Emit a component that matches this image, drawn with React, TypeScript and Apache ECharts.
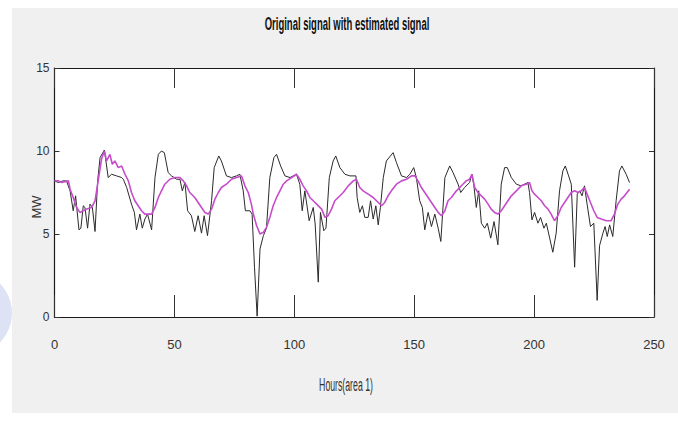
import React, { useEffect, useRef } from "react";
import * as echarts from "echarts";

const chartTitle = "Original signal with estimated signal";
const xAxisName = "Hours(area 1)";
const yAxisName = "MW";

const originalHours = [
  0, 1.6, 3.5, 5.0, 6.5, 7.8, 8.8, 10.2, 11.0, 12.0, 12.7, 13.8, 14.8, 15.8, 16.9, 18.0, 19.0, 20.8, 22.4, 23.8,
  25.9, 28.0, 28.7, 30.1, 32.1, 33.3, 34.2, 35.6, 36.6, 37.7, 38.8, 40.5, 41.9, 43.3, 44.6, 45.8, 47.4, 48.8,
  50.9, 52.3, 53.3, 54.4, 55.5, 57.1, 58.5, 59.9, 61.3, 62.4, 63.8, 65.5, 66.6, 68.5, 69.6, 71.7, 73.8, 75.9,
  77.3, 78.7, 79.6, 81.5, 82.4, 83.4, 84.5, 85.7, 87.1, 88.4, 89.8, 91.5, 92.6, 94.3, 96.1, 98.2, 100.9, 102.3,
  103.3, 104.4, 106.2, 107.9, 108.7, 110.0, 110.9, 112.3, 113.2, 114.6, 116.2, 117.3, 119.0, 121.1, 123.2,
  125.7, 126.2, 127.3, 128.4, 129.4, 130.8, 131.8, 132.9, 134.0, 135.0, 135.9, 137.1, 138.4, 141.2, 142.6,
  144.7, 146.8, 148.2, 149.8, 150.9, 152.3, 153.4, 154.4, 155.8, 157.2, 158.6, 160.0, 161.1, 162.8, 164.8,
  166.2, 168.3, 169.4, 171.0, 173.1, 174.1, 174.9, 175.9, 176.9, 178.0, 179.4, 180.5, 181.9, 183.3, 184.9,
  186.3, 187.7, 188.8, 190.5, 192.6, 194.6, 197.4, 198.1, 199.1, 200.2, 201.6, 202.7, 204.1, 205.1, 206.5,
  207.8, 209.2, 210.6, 212.0, 213.0, 214.4, 215.5, 216.9, 218.0, 219.0, 220.0, 221.0, 222.1, 223.5, 224.9,
  226.3, 227.3, 228.7, 229.6, 230.5, 231.5, 232.8, 234.2, 235.6, 236.6, 238.4, 239.8,
];
const originalMW = [
  8.2, 8.1, 8.2, 8.2, 7.6, 6.4, 7.3, 5.25, 5.35, 6.7, 6.6, 5.35, 6.8, 6.6, 5.15, 8.2, 9.6, 10.06, 8.4, 8.6,
  8.5, 8.4, 8.3, 7.8, 6.8, 6.3, 5.25, 6.2, 5.35, 5.9, 6.2, 5.25, 8.4, 9.8, 10.0, 9.9, 8.7, 8.5,
  8.3, 8.3, 7.6, 8.1, 6.4, 6.1, 5.15, 6.1, 5.05, 6.1, 4.9, 7.0, 9.0, 9.7, 9.4, 8.5, 8.4, 8.5,
  8.6, 7.6, 6.4, 6.4, 6.2, 3.0, 0.05, 4.1, 4.9, 5.35, 8.4, 9.6, 9.8, 9.1, 8.5, 8.4, 8.6, 8.0,
  6.4, 7.6, 5.8, 6.6, 5.6, 2.1, 6.3, 5.2, 5.35, 8.4, 9.4, 9.7, 9.0, 8.6, 8.5,
  8.5, 7.2, 6.3, 6.7, 6.0, 6.0, 7.0, 5.9, 6.7, 5.55, 6.6, 8.4, 9.4, 9.9, 9.3,
  8.5, 8.4, 8.6, 9.0, 8.4, 7.0, 6.6, 5.25, 6.3, 5.45, 6.2, 5.35, 4.55, 8.4, 9.1,
  8.7, 8.0, 7.5, 7.8, 8.1, 8.6, 7.9, 6.6, 7.6, 5.65, 5.35, 5.65, 4.75, 5.75, 4.35,
  8.0, 9.0, 9.0, 8.4, 8.0, 7.9, 8.1, 7.5, 5.85, 6.3, 5.65, 6.0, 5.35, 5.65, 4.75,
  3.9, 5.05, 7.6, 8.8, 9.1, 8.5, 8.0, 3.0, 7.4, 7.6, 7.3, 7.9, 6.8, 5.45, 5.65,
  1.0, 4.3, 5.05, 5.45, 4.85, 5.55, 4.85, 7.0, 8.8, 9.1, 8.6, 8.1,
];

const estimatedHours = [
  0, 1.6, 3.0, 5.8, 6.5, 7.8, 9.2, 10.6, 12.0, 13.4, 15.5, 16.9, 18.0, 19.6, 20.8, 21.7, 23.1, 24.1, 25.2, 26.6,
  28.0, 29.4, 30.8, 32.1, 33.5, 34.9, 36.3, 37.7, 40.5, 41.9, 43.3, 44.6, 46.0, 48.1, 50.2, 52.3, 53.7, 55.1,
  56.4, 58.5, 59.9, 61.3, 62.7, 64.1, 65.5, 66.9, 68.3, 69.6, 71.7, 73.8, 75.9, 78.0, 79.4, 80.8, 82.1, 82.9,
  84.3, 85.7, 87.1, 88.4, 89.8, 91.2, 92.6, 94.0, 95.4, 96.8, 98.9, 100.9, 102.3, 103.7, 105.1, 106.5, 107.9,
  109.3, 111.4, 112.8, 114.1, 115.5, 116.9, 118.3, 120.4, 122.5, 124.6, 125.9, 127.3, 128.7, 130.8, 132.9,
  135.0, 136.4, 137.7, 139.1, 140.5, 142.6, 144.7, 146.8, 148.9, 150.3, 151.6, 153.0, 154.4, 155.8, 157.2,
  158.6, 160.0, 161.4, 162.8, 164.1, 165.5, 167.6, 169.0, 170.3, 171.7, 173.1, 174.1, 175.2, 176.6, 178.0,
  179.4, 180.8, 182.1, 183.5, 184.9, 186.3, 187.7, 189.1, 190.5, 192.6, 194.6, 196.7, 198.1, 199.1, 200.2,
  201.6, 203.0, 204.4, 205.8, 207.1, 208.5, 209.9, 211.3, 212.7, 214.1, 215.5, 216.9, 218.3, 219.6, 221.0,
  222.1, 223.5, 224.9, 226.3, 228.0, 230.1, 232.1, 233.5, 234.9, 236.3, 237.7, 239.8,
];
const estimatedMW = [
  8.2, 8.2, 8.1, 8.2, 7.7, 7.2, 6.6, 6.3, 6.4, 6.5, 6.6, 7.0, 8.0, 9.5, 10.0, 9.4, 9.8, 9.2, 9.4, 9.0,
  9.1, 8.6, 8.2, 7.5, 7.0, 6.7, 6.4, 6.2, 6.2, 6.6, 7.2, 7.6, 8.0, 8.3, 8.4, 8.4, 8.2, 7.9,
  7.5, 7.2, 6.9, 6.6, 6.3, 6.2, 6.5, 7.1, 7.5, 7.8, 8.0, 8.3, 8.4, 8.5, 7.9, 7.5, 6.8, 6.2,
  5.5, 5.0, 5.1, 5.4, 6.0, 6.7, 7.2, 7.6, 8.0, 8.2, 8.4, 8.6, 8.3, 7.9, 7.6, 7.2, 7.0,
  6.8, 6.5, 6.0, 6.1, 6.5, 7.0, 7.2, 7.5, 7.9, 8.2, 8.3, 7.8, 7.6, 7.4, 7.2,
  6.9, 6.7, 6.9, 7.3, 7.6, 8.0, 8.2, 8.3, 8.5, 8.5, 8.2, 7.8, 7.5, 7.2, 6.9,
  6.6, 6.3, 6.1, 6.4, 7.0, 7.2, 7.6, 7.8, 8.0, 8.2, 8.3, 8.6, 7.8, 7.5, 7.3,
  7.1, 6.8, 6.5, 6.3, 6.2, 6.4, 6.7, 7.0, 7.3, 7.6, 7.9, 8.0, 8.1, 7.6, 7.4,
  7.2, 7.0, 6.7, 6.5, 6.2, 5.8, 6.1, 6.6, 6.9, 7.2, 7.5, 7.6, 7.5, 7.6, 7.8,
  7.4, 6.9, 6.4, 6.0, 5.9, 5.8, 5.8, 6.2, 6.8, 7.1, 7.3, 7.7,
];

const xTicks = { min: 0, max: 250, interval: 50 };
const yTicks = { min: 0, max: 15, interval: 5 };

const font = "'Liberation Sans', Arial, sans-serif";

export default function App() {
  const ref = useRef<HTMLDivElement>(null);
  useEffect(() => {
    if (!ref.current) return;
    const chart = echarts.init(ref.current, undefined, { renderer: "svg" });
    const axisLine = { show: true, onZero: false, lineStyle: { color: "#1a1a1a", width: 1.2 } };
    const tickStyle = { color: "#333", width: 1 };
    chart.setOption({
      animation: false,
      backgroundColor: "#ffffff",
      graphic: [
        { type: "circle", z: -20, shape: { cx: -30, cy: 313, r: 42 }, style: { fill: "#dde2f4" } },
        { type: "rect", z: -10, shape: { x: 12, y: 8, width: 666, height: 405 }, style: { fill: "#f0f0f0" } },
        {
          type: "text",
          x: 347,
          y: 23,
          scaleX: 0.5,
          style: {
            text: chartTitle,
            fontFamily: font,
            fontSize: 19,
            fontWeight: "bold",
            fill: "#111",
            align: "center",
            verticalAlign: "middle",
          },
        },
        {
          type: "text",
          x: 346,
          y: 385,
          scaleX: 0.46,
          style: {
            text: xAxisName,
            fontFamily: font,
            fontSize: 19,
            fill: "#333",
            align: "center",
            verticalAlign: "middle",
          },
        },
        {
          type: "text",
          x: 36,
          y: 207,
          rotation: Math.PI / 2,
          style: {
            text: yAxisName,
            fontFamily: font,
            fontSize: 13,
            fill: "#333",
            align: "center",
            verticalAlign: "middle",
          },
        },
      ],
      grid: { left: 54.5, right: 24, top: 68, bottom: 106, show: true, backgroundColor: "#ffffff", borderWidth: 0 },
      xAxis: [
        {
          type: "value",
          ...xTicks,
          position: "bottom",
          axisLine,
          axisTick: { show: true, inside: true, length: 22, lineStyle: tickStyle },
          axisLabel: { margin: 21, fontFamily: font, fontSize: 13, color: "#333" },
          splitLine: { show: false },
        },
        {
          type: "value",
          ...xTicks,
          position: "top",
          axisLine,
          axisTick: { show: true, inside: true, length: 20, lineStyle: tickStyle },
          axisLabel: { show: false },
          splitLine: { show: false },
        },
      ],
      yAxis: [
        {
          type: "value",
          ...yTicks,
          position: "left",
          axisLine,
          axisTick: { show: true, inside: true, length: 5, lineStyle: tickStyle },
          axisLabel: { margin: 5, fontFamily: font, fontSize: 12, color: "#333" },
          splitLine: { show: false },
        },
        {
          type: "value",
          ...yTicks,
          position: "right",
          axisLine,
          axisTick: { show: true, inside: true, length: 5, lineStyle: tickStyle },
          axisLabel: { show: false },
          splitLine: { show: false },
        },
      ],
      series: [
        {
          type: "line",
          name: "Original",
          xAxisIndex: 0,
          yAxisIndex: 0,
          data: originalHours.map((h, i) => [h, originalMW[i]]),
          symbol: "none",
          lineStyle: { color: "#2a2a2a", width: 1 },
          z: 2,
        },
        {
          type: "line",
          name: "Estimated",
          xAxisIndex: 0,
          yAxisIndex: 0,
          data: estimatedHours.map((h, i) => [h, estimatedMW[i]]),
          symbol: "none",
          lineStyle: { color: "#c64ccc", width: 1.6 },
          z: 3,
        },
      ],
    });
    return () => chart.dispose();
  }, []);
  return <div ref={ref} style={{ position: "fixed", left: 0, top: 0, width: 678, height: 423 }} />;
}
